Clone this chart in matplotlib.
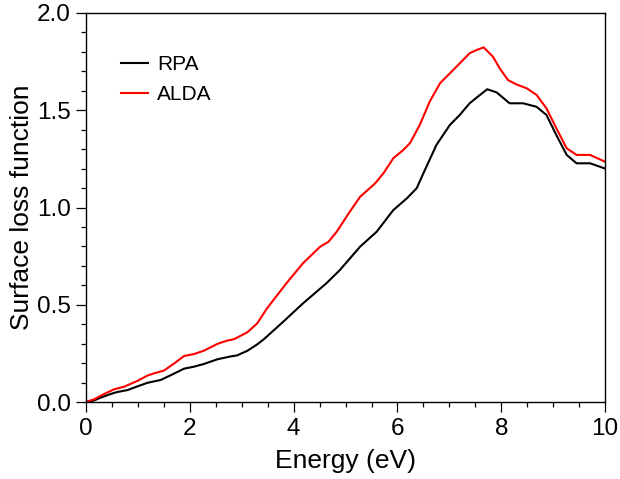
import matplotlib
matplotlib.use("Agg")
import matplotlib.pyplot as plt
from matplotlib.ticker import MultipleLocator, FormatStrFormatter

plt.rcParams['font.family'] = ['Liberation Sans', 'DejaVu Sans']

# RPA surface loss function (black)
rpa_e = [0.0, 0.15, 0.28, 0.475, 0.60, 0.80, 0.99, 1.18, 1.44, 1.63, 1.89, 2.08,
         2.27, 2.53, 2.79, 2.91, 3.11, 3.30, 3.43, 3.80, 4.18, 4.63, 4.89, 5.28,
         5.60, 5.92, 6.18, 6.37, 6.50, 6.75, 7.01, 7.20, 7.39, 7.59, 7.73, 7.91,
         8.16, 8.42, 8.68, 8.87, 9.06, 9.26, 9.45, 9.71, 10.0]
rpa_loss = [0.0, 0.009, 0.024, 0.043, 0.053, 0.063, 0.082, 0.10, 0.115, 0.139, 0.173, 0.183,
            0.197, 0.221, 0.236, 0.241, 0.265, 0.298, 0.325, 0.414, 0.508, 0.611, 0.679, 0.799,
            0.876, 0.987, 1.047, 1.099, 1.176, 1.321, 1.424, 1.475, 1.535, 1.578, 1.607, 1.591,
            1.535, 1.535, 1.517, 1.475, 1.372, 1.27, 1.227, 1.227, 1.20]

# ALDA surface loss function (red)
alda_e = [0.0, 0.15, 0.35, 0.54, 0.73, 0.99, 1.18, 1.31, 1.50, 1.70, 1.89, 2.08,
          2.27, 2.53, 2.72, 2.85, 3.11, 3.30, 3.48, 3.86, 4.18, 4.51, 4.67, 4.83,
          5.08, 5.28, 5.57, 5.73, 5.92, 6.11, 6.24, 6.43, 6.62, 6.82, 7.01, 7.20,
          7.39, 7.52, 7.66, 7.84, 7.97, 8.13, 8.29, 8.49, 8.68, 8.87, 9.06, 9.26,
          9.45, 9.71, 10.0]
alda_loss = [0.003, 0.015, 0.043, 0.067, 0.080, 0.11, 0.137, 0.149, 0.163, 0.20, 0.238, 0.248,
             0.265, 0.30, 0.317, 0.324, 0.36, 0.406, 0.48, 0.611, 0.714, 0.799, 0.824, 0.876,
             0.978, 1.055, 1.124, 1.176, 1.253, 1.295, 1.33, 1.424, 1.543, 1.638, 1.689, 1.74,
             1.792, 1.808, 1.822, 1.774, 1.714, 1.654, 1.632, 1.612, 1.578, 1.509, 1.407, 1.304,
             1.27, 1.27, 1.235]

fig = plt.figure(figsize=(6.2, 4.79), dpi=100)
ax = fig.add_axes([0.1387, 0.160, 0.8373, 0.8135])

ax.plot(rpa_e, rpa_loss, color='black', lw=1.5, label='RPA')
ax.plot(alda_e, alda_loss, color='#ff0000', lw=1.5, label='ALDA')

ax.set_xlim(0, 10)
ax.set_ylim(0, 2.0)
ax.xaxis.set_major_locator(MultipleLocator(2))
ax.xaxis.set_minor_locator(MultipleLocator(0.5))
ax.yaxis.set_major_locator(MultipleLocator(0.5))
ax.yaxis.set_minor_locator(MultipleLocator(0.1))
ax.yaxis.set_major_formatter(FormatStrFormatter('%.1f'))
ax.tick_params(which='major', direction='out', length=7, width=0.9, labelsize=17.5, pad=4)
ax.tick_params(which='minor', direction='out', length=3.6, width=0.9)
for s in ax.spines.values():
    s.set_linewidth(1.0)

ax.set_xlabel('Energy (eV)', fontsize=19, labelpad=7)
ax.set_ylabel('Surface loss function', fontsize=19, labelpad=2)

ax.legend(loc='upper left', bbox_to_anchor=(0.032, 0.94), frameon=False,
          fontsize=15, handlelength=1.26, handletextpad=0.45, labelspacing=0.55)

fig.savefig('out.png', dpi=100)
